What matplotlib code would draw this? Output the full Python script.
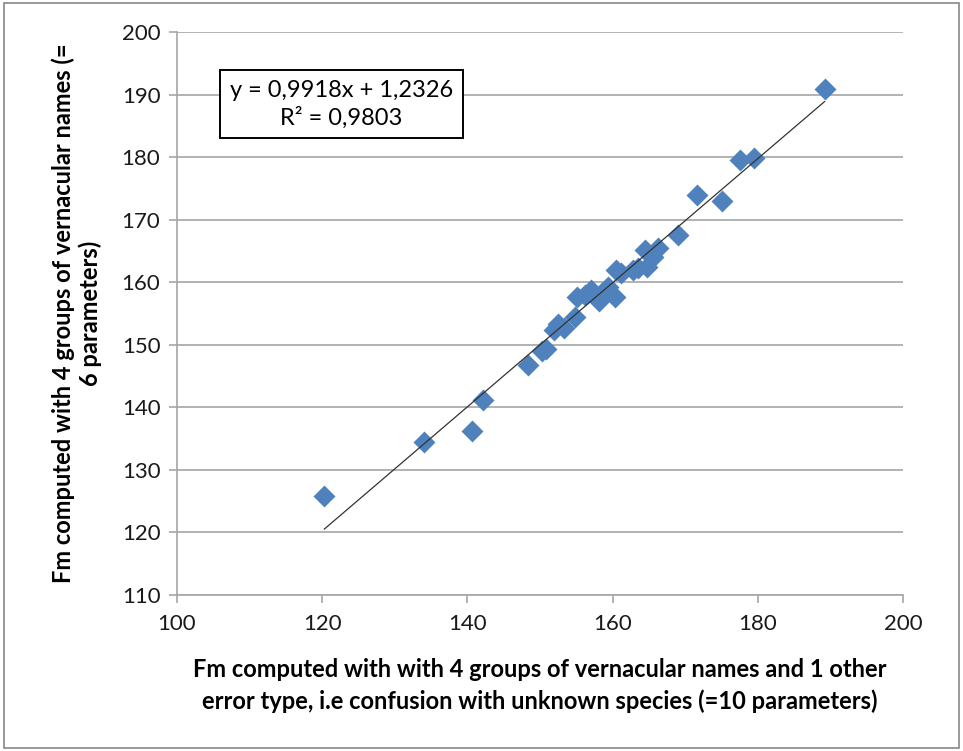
import numpy as np
import matplotlib.pyplot as plt
from matplotlib.patches import FancyBboxPatch

# points
fm_10 = [120.3, 134.0, 140.6, 142.2, 148.4, 150.3, 150.8, 151.9, 152.5, 153.3,
         154.8, 155.1, 156.2, 157.0, 158.1, 158.6, 159.3, 160.3, 160.5, 161.2,
         162.8, 163.5, 164.5, 164.8, 165.5, 166.3, 169.0, 171.6, 175.0, 177.6,
         179.5, 189.2]
fm_6 = [125.8, 134.4, 136.2, 141.2, 146.8, 149.0, 149.3, 152.4, 153.3, 152.7,
        154.4, 157.6, 158.0, 158.8, 157.0, 158.2, 159.3, 157.6, 162.0, 161.5,
        162.0, 162.3, 165.1, 162.5, 164.0, 165.5, 167.6, 173.9, 173.0, 179.5,
        179.8, 190.9]
slope = 0.9918
intercept = 1.2326
eq_text = "y = 0,9918x + 1,2326\nR² = 0,9803"

plt.rcParams['font.family'] = ['Lato', 'DejaVu Sans']

fig = plt.figure(figsize=(9.63, 7.51), dpi=100)
ax = fig.add_axes([0.1838, 0.2077, 0.7539, 0.7497])

# outer chart border
fig.patches.append(FancyBboxPatch((0.004, 0.004), 0.992, 0.992, boxstyle="square,pad=0",
                                  transform=fig.transFigure, fill=False,
                                  edgecolor='#888888', linewidth=1.2))

ax.scatter(fm_10, fm_6, marker='D', s=125, color='#4F81BD', zorder=3, linewidths=0)
xs = np.array([min(fm_10), max(fm_10)])
ax.plot(xs, slope * xs + intercept, color='#333333', linewidth=0.9, zorder=4)

ax.set_xlim(100, 200)
ax.set_ylim(110, 200)
ax.set_xticks(range(100, 201, 20))
ax.set_yticks(range(110, 201, 10))
ax.yaxis.grid(True, color='#a6a6a6', linewidth=1.2)
ax.set_axisbelow(True)
for s in ['top', 'right']:
    ax.spines[s].set_visible(False)
for s in ['left', 'bottom']:
    ax.spines[s].set_color('#a6a6a6')
    ax.spines[s].set_linewidth(1.2)
ax.tick_params(axis='both', labelsize=16, labelcolor='#1a1a1a', color='#a6a6a6', length=6, width=1.2)
ax.tick_params(axis='x', pad=8)
ax.tick_params(axis='y', pad=6)

ax.set_xlabel("Fm computed with with 4 groups of vernacular names and 1 other\n"
              "error type, i.e confusion with unknown species (=10 parameters)",
              fontsize=17, fontweight='bold', labelpad=17, linespacing=1.45)
ax.set_ylabel("Fm computed with 4 groups of vernacular names (=\n6 parameters)",
              fontsize=17, fontweight='bold', labelpad=14, linespacing=1.2)

ax.text(0.2266, 0.872, eq_text, transform=ax.transAxes, ha='center', va='center',
        fontsize=17, linespacing=1.3,
        bbox=dict(boxstyle='square,pad=0.4', facecolor='white', edgecolor='black', linewidth=1.4))

fig.savefig('out.png', dpi=100)
